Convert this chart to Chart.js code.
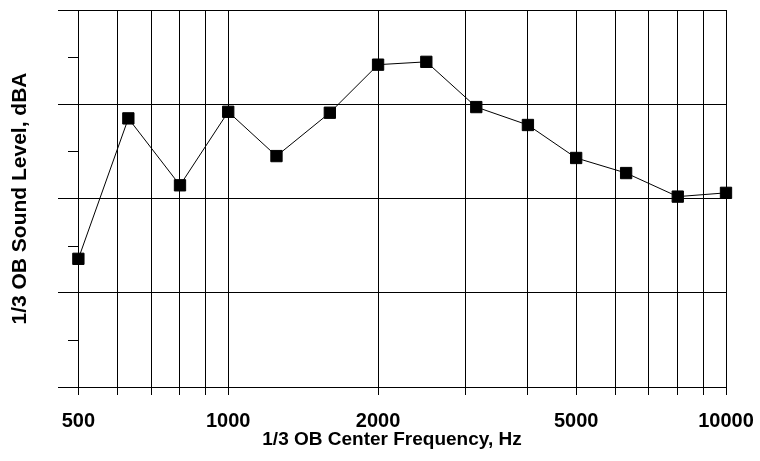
<!DOCTYPE html>
<html>
<head>
<meta charset="utf-8">
<script src="https://cdn.jsdelivr.net/npm/chart.js@4"></script>
<style>
  body { margin: 0; background: #fff; }
  #wrap { width: 760px; height: 461px; }
</style>
</head>
<body>
<div id="wrap"><canvas id="soundChart"></canvas></div>
<script>
// 1/3 octave band centre frequencies (Hz)
const freqs = [500, 630, 800, 1000, 1250, 1600, 2000, 2500, 3150, 4000, 5000, 6300, 8000, 10000];
// sound level (no scale printed, 0-40 relative)
const levels = [13.6, 28.5, 21.4, 29.2, 24.5, 29.1, 34.2, 34.5, 29.7, 27.8, 24.3, 22.7, 20.2, 20.6];

// gridlines on the x axis and the ones that get a label
const xGrid = [500, 600, 700, 800, 900, 1000, 2000, 3000, 4000, 5000, 6000, 7000, 8000, 9000, 10000];
const xLabels = [500, 1000, 2000, 5000, 10000];
// y gridlines (major) and the small marks between them (minor)
const yMajor = [0, 10, 20, 30, 40];
const yMinor = [5, 15, 25, 35];

const FONT = '"Liberation Sans", Arial, sans-serif';

// small tick marks on the left inside the plot
const minorTicks = {
    id: 'minorTicks',
    afterDraw(chart) {
        const ctx = chart.ctx;
        const y = chart.scales.y;
        const left = chart.chartArea.left;
        ctx.save();
        ctx.strokeStyle = '#000';
        ctx.lineWidth = 1;
        yMinor.forEach(v => {
            const py = Math.round(y.getPixelForValue(v)) + 0.5;
            ctx.beginPath();
            ctx.moveTo(left + 10, py);
            ctx.lineTo(left + 20, py);
            ctx.stroke();
        });
        ctx.restore();
    }
};

new Chart(document.getElementById('soundChart'), {
    type: 'line',
    data: {
        datasets: [{
            data: freqs.map((f, i) => ({ x: f, y: levels[i] })),
            borderColor: '#000',
            borderWidth: 1,
            tension: 0,
            clip: false,
            pointStyle: 'rect',
            pointRadius: 8,
            pointBackgroundColor: '#000',
            pointBorderColor: '#000',
            pointBorderWidth: 1
        }]
    },
    options: {
        responsive: true,
        maintainAspectRatio: false,
        animation: false,
        layout: { padding: { top: 10, right: 34, left: 0, bottom: 0 } },
        plugins: { legend: { display: false }, tooltip: { enabled: false } },
        scales: {
            x: {
                type: 'logarithmic',
                min: 455,
                max: 10000,
                afterBuildTicks: (scale) => { scale.ticks = xGrid.map(v => ({ value: v })); },
                afterFit: (scale) => {
                    scale.height = 74;
                    scale.paddingLeft = 0;
                    scale.paddingRight = 0;
                },
                border: { display: false },
                grid: { color: '#000', lineWidth: 1, tickLength: 8 },
                ticks: {
                    autoSkip: false,
                    maxRotation: 0,
                    padding: 14,
                    color: '#000',
                    font: { family: FONT, size: 20, weight: 'bold' },
                    callback: (v) => xLabels.includes(v) ? String(v) : ''
                },
                title: {
                    display: true,
                    text: '1/3 OB Center Frequency, Hz',
                    color: '#000',
                    font: { family: FONT, size: 19, weight: 'bold' },
                    padding: { top: 0, bottom: 10 }
                }
            },
            y: {
                min: 0,
                max: 40,
                afterBuildTicks: (scale) => { scale.ticks = yMajor.map(v => ({ value: v })); },
                afterFit: (scale) => { scale.width = 58; },
                border: { display: false },
                grid: { color: '#000', lineWidth: 1, drawTicks: false },
                ticks: { display: false },
                title: {
                    display: true,
                    text: '1/3 OB Sound Level, dBA',
                    color: '#000',
                    font: { family: FONT, size: 21, weight: 'bold' },
                    padding: { top: 8, bottom: 0 }
                }
            }
        }
    },
    plugins: [minorTicks]
});
</script>
</body>
</html>
